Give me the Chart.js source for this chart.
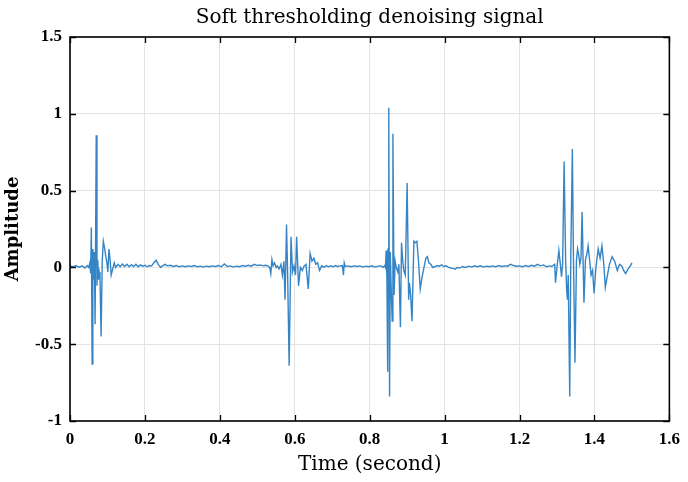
<!DOCTYPE html>
<html>
<head>
<meta charset="utf-8">
<script src="https://cdn.jsdelivr.net/npm/chart.js@4/dist/chart.umd.min.js"></script>
<style>
  html, body { margin: 0; padding: 0; background: #fff; }
  #box { width: 688px; height: 482px; }
</style>
</head>
<body>
<div id="box"><canvas id="signalChart"></canvas></div>
<script>
const chartTitle = 'Soft thresholding denoising signal';
const xTickLabels = ['0', '0.2', '0.4', '0.6', '0.8', '1', '1.2', '1.4', '1.6'];
const yTickLabels = ['-1', '-0.5', '0', '0.5', '1', '1.5'];

// sample times (s) and denoised amplitude, one row per stretch of the record
const timeSec = [
    0.000, 0.008, 0.016, 0.024, 0.032, 0.040, 0.046, 0.050, 0.053, 0.055,
    0.057, 0.059, 0.061, 0.063, 0.065, 0.067, 0.070, 0.072, 0.074, 0.076,
    0.078, 0.080, 0.083, 0.086, 0.089, 0.092, 0.095, 0.098, 0.101, 0.104,
    0.107, 0.110, 0.114, 0.118, 0.122,
    0.128, 0.134, 0.140, 0.146, 0.152, 0.158, 0.164, 0.170, 0.176, 0.182,
    0.188, 0.194, 0.200, 0.206, 0.212, 0.218, 0.224, 0.230, 0.236, 0.242,
    0.248, 0.254, 0.260, 0.268, 0.276, 0.284, 0.292, 0.300, 0.308, 0.316,
    0.324, 0.332, 0.340, 0.348, 0.356, 0.364, 0.372, 0.380, 0.388, 0.396,
    0.404, 0.412, 0.420, 0.428, 0.436, 0.444, 0.452, 0.460, 0.468, 0.476,
    0.484, 0.492, 0.500, 0.508, 0.516, 0.522, 0.528,
    0.533, 0.536, 0.539, 0.542, 0.546, 0.550, 0.553, 0.558, 0.563, 0.567,
    0.571, 0.574, 0.578, 0.581, 0.585, 0.590, 0.594, 0.598, 0.602, 0.605,
    0.610, 0.615, 0.620, 0.625, 0.630, 0.636, 0.641, 0.646, 0.651, 0.656,
    0.661, 0.666, 0.672, 0.678, 0.684, 0.690, 0.696, 0.702, 0.708, 0.714,
    0.720, 0.727, 0.730, 0.732, 0.735, 0.742, 0.750, 0.758, 0.766, 0.774,
    0.782, 0.790, 0.798, 0.806, 0.814, 0.822, 0.830, 0.836, 0.840,
    0.842, 0.844, 0.846, 0.848, 0.849, 0.851, 0.853, 0.855, 0.857, 0.860,
    0.862, 0.865, 0.868, 0.871, 0.875, 0.878, 0.882, 0.885, 0.888, 0.891,
    0.895, 0.900, 0.904, 0.906, 0.909, 0.913, 0.918, 0.922, 0.926, 0.930,
    0.935, 0.940, 0.945, 0.950, 0.954, 0.958, 0.963, 0.968, 0.974, 0.980,
    0.986, 0.992, 0.998, 1.004, 1.010, 1.016, 1.022, 1.028, 1.034, 1.040,
    1.048, 1.056, 1.064, 1.072, 1.080, 1.088, 1.096, 1.104, 1.112, 1.120,
    1.128, 1.136, 1.144, 1.152, 1.160, 1.168, 1.176, 1.184, 1.192, 1.200,
    1.208, 1.216, 1.224, 1.232, 1.240, 1.248, 1.256, 1.264, 1.272, 1.280,
    1.286, 1.290,
    1.294, 1.296, 1.300, 1.305, 1.309, 1.312, 1.315, 1.319, 1.323, 1.326,
    1.328, 1.330, 1.334, 1.337, 1.341, 1.344, 1.348, 1.352, 1.355, 1.358,
    1.361, 1.364, 1.367, 1.372, 1.376, 1.380, 1.383, 1.387, 1.391, 1.395,
    1.399, 1.404, 1.410, 1.415, 1.420, 1.425, 1.429, 1.434, 1.440, 1.447,
    1.454, 1.461, 1.467, 1.473, 1.478, 1.483, 1.490, 1.496, 1.500
];

const amplitude = [
    0.010, 0.004, 0.012, 0.000, 0.010, -0.004, 0.012, 0.000, 0.030, -0.040,
    0.260, -0.630, 0.120, -0.080, 0.100, -0.370, 0.860, -0.120, 0.050, -0.080,
    -0.030, -0.060, -0.450, 0.040, 0.170, 0.130, 0.080, 0.040, -0.030, 0.120,
    0.050, -0.050, -0.010, 0.030, 0.000,
    0.020, 0.004, 0.022, 0.006, 0.020, 0.004, 0.018, 0.006, 0.020, 0.004,
    0.016, 0.008, 0.014, 0.004, 0.012, 0.010, 0.030, 0.046, 0.018, 0.000,
    0.012, 0.020, 0.010, 0.014, 0.006, 0.012, 0.004, 0.010, 0.004, 0.010,
    0.006, 0.012, 0.004, 0.008, 0.002, 0.008, 0.004, 0.010, 0.006, 0.012,
    0.004, 0.022, 0.006, 0.010, 0.002, 0.008, 0.004, 0.012, 0.008, 0.014,
    0.008, 0.020, 0.012, 0.016, 0.010, 0.014, 0.010,
    0.000, -0.040, 0.050, 0.010, 0.030, 0.000, 0.010, -0.010, 0.020, -0.050,
    0.040, -0.210, 0.280, -0.050, -0.640, 0.200, -0.030, 0.010, -0.050, 0.200,
    -0.120, 0.000, -0.020, 0.010, 0.020, -0.140, 0.090, 0.040, 0.060, 0.020,
    0.030, -0.020, 0.010, 0.000, 0.012, 0.004, 0.010, 0.004, 0.012, 0.006,
    0.010, 0.012, -0.050, 0.030, 0.006, 0.010, 0.004, 0.010, 0.006, 0.010,
    0.002, 0.008, 0.004, 0.010, 0.002, 0.008, 0.010, 0.000, 0.012,
    0.000, 0.110, -0.080, -0.680, 0.120, 1.040, -0.840, 0.100, -0.100, -0.350,
    0.870, -0.180, 0.040, 0.000, -0.030, 0.020, -0.390, 0.160, 0.050, -0.020,
    -0.050, 0.550, -0.210, -0.100, -0.170, -0.350, 0.170, 0.160, 0.170, 0.050,
    -0.140, -0.060, 0.000, 0.060, 0.070, 0.030, 0.020, 0.000, 0.004, 0.012,
    0.008, 0.016, 0.006, 0.010, 0.002, -0.004, -0.006, -0.012, 0.000, -0.004,
    0.006, 0.000, 0.008, 0.002, 0.010, 0.004, 0.010, 0.002, 0.008, 0.004,
    0.010, 0.004, 0.012, 0.006, 0.010, 0.008, 0.020, 0.012, 0.008, 0.010,
    0.004, 0.012, 0.006, 0.014, 0.008, 0.020, 0.010, 0.016, 0.004, 0.010,
    0.006, 0.014,
    0.020, -0.100, 0.000, 0.110, 0.020, -0.060, 0.020, 0.690, 0.050, -0.160,
    -0.210, -0.050, -0.840, 0.100, 0.770, 0.050, -0.620, 0.050, 0.120, 0.080,
    0.020, 0.060, 0.360, -0.230, 0.050, 0.090, 0.140, 0.050, -0.050, -0.020,
    -0.170, 0.000, 0.120, 0.060, 0.140, 0.020, -0.130, -0.060, 0.020, 0.070,
    0.040, -0.020, 0.020, 0.010, -0.020, -0.040, -0.010, 0.010, 0.030
];

const serif = '"Liberation Serif", "Times New Roman", serif';
const titleSerif = '"DejaVu Serif", serif';

// black box round the plot, inward tick marks on all four sides,
// and the title centred over the plot area rather than the canvas
const frameBox = {
    id: 'frameBox',
    afterDatasetsDraw(chart) {
        const { ctx, chartArea: a, scales } = chart;
        const len = 6;
        ctx.save();
        ctx.strokeStyle = '#000';
        ctx.lineWidth = 1.6;
        ctx.strokeRect(a.left, a.top, a.right - a.left, a.bottom - a.top);
        ctx.lineWidth = 1.3;
        ctx.beginPath();
        scales.x.ticks.forEach(t => {
            const px = Math.round(scales.x.getPixelForValue(t.value)) + 0.5;
            ctx.moveTo(px, a.bottom); ctx.lineTo(px, a.bottom - len);
            ctx.moveTo(px, a.top); ctx.lineTo(px, a.top + len);
        });
        scales.y.ticks.forEach(t => {
            const py = Math.round(scales.y.getPixelForValue(t.value)) + 0.5;
            ctx.moveTo(a.left, py); ctx.lineTo(a.left + len, py);
            ctx.moveTo(a.right, py); ctx.lineTo(a.right - len, py);
        });
        ctx.stroke();

        ctx.fillStyle = '#000';
        ctx.font = '20px ' + titleSerif;
        ctx.textAlign = 'center';
        ctx.textBaseline = 'middle';
        ctx.fillText(chartTitle, (a.left + a.right) / 2, 18);
        ctx.restore();
    }
};

const ctx = document.getElementById('signalChart').getContext('2d');
const signalChart = new Chart(ctx, {
    type: 'line',
    data: {
        datasets: [{
            data: timeSec.map((t, i) => ({ x: t, y: amplitude[i] })),
            borderColor: '#3585c6',
            borderWidth: 1.4,
            pointRadius: 0,
            tension: 0,
            fill: false
        }]
    },
    options: {
        responsive: true,
        maintainAspectRatio: false,
        animation: false,
        layout: { padding: { top: 37, right: 16 } },
        plugins: {
            legend: { display: false },
            tooltip: { enabled: false },
            title: { display: false }
        },
        scales: {
            x: {
                type: 'linear',
                min: 0,
                max: 1.6,
                afterFit: s => { s.height = 61; },
                afterBuildTicks: s => { s.ticks = xTickLabels.map(v => ({ value: parseFloat(v) })); },
                ticks: {
                    callback: (v, i) => xTickLabels[i],
                    color: '#000',
                    padding: 8,
                    maxRotation: 0,
                    font: { family: serif, size: 17, weight: 'bold' }
                },
                grid: { color: '#e4e4e4', lineWidth: 1, drawTicks: false },
                border: { display: false },
                title: {
                    display: true,
                    text: 'Time (second)',
                    color: '#000',
                    font: { family: titleSerif, size: 20, weight: 'normal', lineHeight: 1.2 },
                    padding: { top: 0, bottom: 5 }
                }
            },
            y: {
                min: -1,
                max: 1.5,
                afterFit: s => { s.width = 70; },
                afterBuildTicks: s => { s.ticks = yTickLabels.map(v => ({ value: parseFloat(v) })); },
                ticks: {
                    callback: (v, i) => yTickLabels[i],
                    color: '#000',
                    padding: 8,
                    font: { family: serif, size: 17, weight: 'bold' }
                },
                grid: { color: '#e4e4e4', lineWidth: 1, drawTicks: false },
                border: { display: false },
                title: {
                    display: true,
                    text: 'Amplitude',
                    color: '#000',
                    font: { family: titleSerif, size: 18, weight: 'bold', lineHeight: 1.2 },
                    padding: { top: 3, bottom: 0 }
                }
            }
        }
    },
    plugins: [frameBox]
});
</script>
</body>
</html>
